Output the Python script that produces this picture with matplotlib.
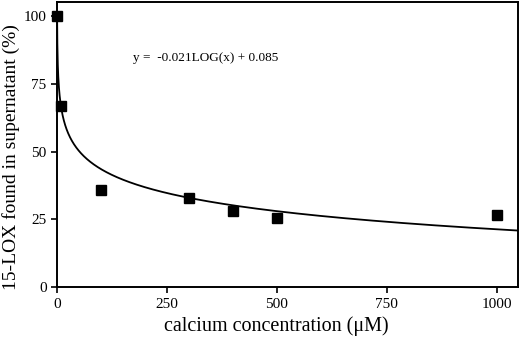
import numpy as np
import matplotlib.pyplot as plt

# measured points (calcium uM vs % 15-LOX in supernatant)
calcium = [0, 10, 100, 300, 400, 500, 1000]
lox_pct = [100, 67, 36, 33, 28, 25.5, 26.5]

# log fit
fit_a = 88.0
fit_b = -9.65

plt.rcParams['font.family'] = ['Liberation Serif', 'DejaVu Serif']

fig = plt.figure(figsize=(5.2, 3.41), dpi=100)
ax = fig.add_axes([0.1096, 0.158, 0.886, 0.836])

xs = np.linspace(0.3, 1048, 2000)
ax.plot(xs, fit_a + fit_b * np.log(xs), color='black', lw=1.3)
ax.plot(calcium, lox_pct, 's', color='black', ms=6.5, clip_on=False, zorder=5)

ax.text(173, 84.5, 'y =  -0.021LOG(x) + 0.085', fontsize=9.5, va='center')

ax.set_xlim(0, 1048)
ax.set_ylim(0, 105.2)
ax.set_xticks([0, 250, 500, 750, 1000])
ax.set_yticks([0, 25, 50, 75, 100])
ax.tick_params(direction='out', length=4, width=1.2, labelsize=11)
for s in ax.spines.values():
    s.set_linewidth(1.4)

# axis titles placed by hand so they fit like the original
fig.text(0.531, 0.045, 'calcium concentration (\u03bcM)', fontsize=14.5,
         ha='center', va='center')
fig.text(0.021, 0.54, '15-LOX found in supernatant (%)', fontsize=14,
         ha='center', va='center', rotation=90)

fig.savefig('out.png', dpi=100)
